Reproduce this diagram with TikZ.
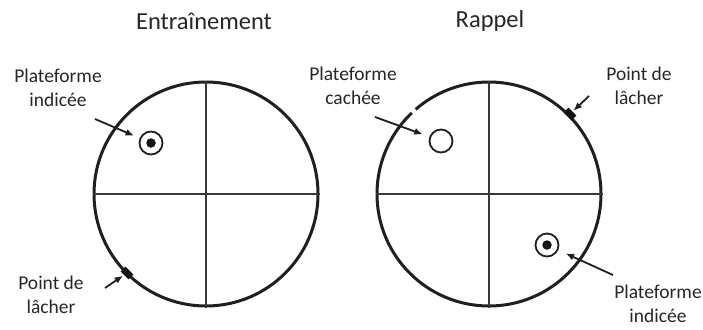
\documentclass[tikz,border=0pt]{standalone}
\usepackage{fontspec}
\setmainfont{Carlito}
\usetikzlibrary{arrows.meta,positioning}

\begin{document}
\begin{tikzpicture}[x=1pt,y=-1pt,>={Latex[length=8.5pt,width=7pt]}]
  \tikzstyle{arena}=[draw=black!88,line width=3pt,circle,minimum size=224pt,inner sep=0pt]
  \tikzstyle{quad}=[draw=black!78,line width=1.9pt]
  \tikzstyle{plat}=[draw=black!88,line width=1.8pt,circle,minimum size=23pt,inner sep=0pt]
  \tikzstyle{dot}=[fill=black!92,circle,minimum size=9.5pt,inner sep=0pt]
  \tikzstyle{drop}=[fill=black!92,minimum width=11pt,minimum height=7pt,inner sep=0pt,rotate=-45]
  \tikzstyle{lbl}=[text=black!85,align=center,font=\fontsize{19.5}{24}\selectfont]
  \tikzstyle{ttl}=[text=black!85,font=\fontsize{24.5}{29}\selectfont]
  \tikzstyle{pointer}=[draw=black!88,line width=1.8pt,->]
  \useasboundingbox (0,0) rectangle (703,329);
  % the two pools
  \node[arena] (poolL) at (206,194) {};
  \node[arena] (poolR) at (489,194) {};
  \draw[quad] (poolL.north) -- (poolL.south);
  \draw[quad] (poolL.west) -- (poolL.east);
  \draw[quad] (poolR.north) -- (poolR.south);
  \draw[quad] (poolR.west) -- (poolR.east);
  \draw[white,line width=4.5pt] (poolR.center) ++(226.5:112) arc[start angle=226.5,end angle=229,radius=112];
  % platforms and release points
  \node[plat] (platL) at (151,143) {};
  \node[dot] at (platL) {};
  \node[plat] (platR) at (441,141) {};
  \node[plat] (platR2) at (547,245) {};
  \node[dot] at (platR2) {};
  \node[drop] (dropL) at (127,273) {};
  \node[drop] (dropR) at (570,114) {};
  % titles and labels
  \node[ttl] (ttlL) at (204,21) {Entraînement};
  \node[ttl] (ttlR) at (490,21) {Rappel};
  \node[lbl] (indL) at (58,88) {Plateforme\\indicée};
  \node[lbl] (lachL) at (51,295) {Point de\\lâcher};
  \node[lbl] (cach) at (353,86) {Plateforme\\cachée};
  \node[lbl] (lachR) at (639,86) {Point de\\lâcher};
  \node[lbl] (indR) at (658,304) {Plateforme\\indicée};
  % pointers
  \coordinate (tA) at (95,119);
  \coordinate (tB) at (105,288);
  \coordinate (tC) at (375,117);
  \coordinate (tD) at (589,96);
  \coordinate (tE) at (613,275);
  \draw[pointer,shorten >=6pt] (tA) -- (platL);
  \draw[pointer,shorten >=1pt] (tB) -- (dropL);
  \draw[pointer,shorten >=7pt] (tC) -- (platR);
  \draw[pointer,shorten >=1pt] (tD) -- (dropR);
  \draw[pointer,shorten >=8pt] (tE) -- (platR2);
\end{tikzpicture}
\end{document}
